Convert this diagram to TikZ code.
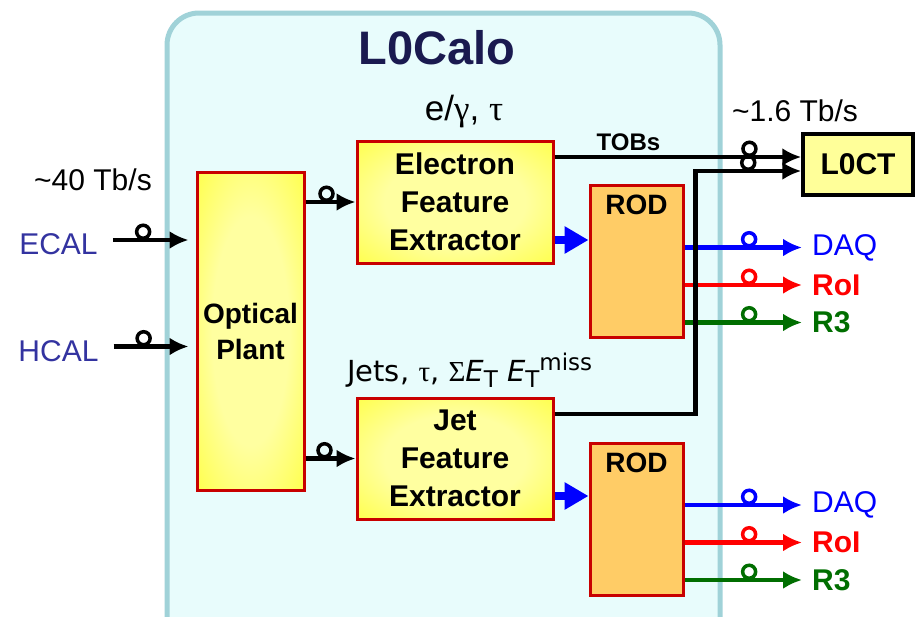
\documentclass[tikz,border=0pt]{standalone}
\usepackage{fontspec}
\setmainfont{Liberation Sans}
\newfontfamily\grkfont{Liberation Serif}
\newfontfamily\verdfont{DejaVu Sans}
\usepackage{tikz}
\usetikzlibrary{arrows.meta,calc,positioning}
\definecolor{calobg}{RGB}{232,252,252}
\definecolor{caloframe}{RGB}{160,210,216}
\definecolor{titlecolor}{RGB}{26,26,80}
\definecolor{detcolor}{RGB}{51,51,160}
\definecolor{boxred}{RGB}{200,0,0}
\definecolor{yelin}{RGB}{255,255,160}
\definecolor{yelout}{RGB}{255,255,0}
\definecolor{rodin}{RGB}{255,204,102}
\definecolor{rodout}{RGB}{255,150,40}
\definecolor{l0ctcolor}{RGB}{255,255,153}
\definecolor{daqcolor}{RGB}{0,0,255}
\definecolor{roicolor}{RGB}{255,0,0}
\definecolor{rthreecolor}{RGB}{0,110,0}
\pgfdeclareradialshading{yellowglow}{\pgfpoint{0bp}{0bp}}{color(0bp)=(yelin); color(18bp)=(yelin); color(52bp)=(yelout); color(72bp)=(yelout)}
\pgfdeclareradialshading{rodglow}{\pgfpoint{0bp}{0bp}}{color(0bp)=(rodin); color(38bp)=(rodin); color(72bp)=(rodout)}
\newcommand{\fsize}[2]{\fontsize{#1}{#2}\selectfont}
\newcommand{\tsub}[1]{\raisebox{-6pt}{\fsize{23}{23}#1}}
\newcommand{\tsup}[1]{\raisebox{11pt}{\fsize{23}{23}#1}}

\begin{document}
\begin{tikzpicture}[
    x=1pt, y=-1pt,
    fbox/.style={rectangle, draw=boxred, line width=3pt, shading=yellowglow, align=center, inner sep=0pt, font=\fsize{30}{38}\bfseries},
    rodbox/.style={rectangle, draw=boxred, line width=3pt, shading=rodglow, minimum width=93pt, minimum height=152pt,
        label={[font=\fsize{28}{28}\bfseries, anchor=north, inner sep=0pt, yshift=-11pt]north:ROD}},
    sig/.style={line width=4.5pt, -{Latex[length=19pt,width=18pt]}},
    ring/.style={circle, draw, line width=3.5pt, minimum size=13pt, inner sep=0pt, anchor=south},
    feed/.style={line width=8pt, draw=daqcolor, -{Triangle[length=24pt,width=26pt]}},
    lbl/.style={font=\fsize{30}{30}, anchor=west, inner ysep=0pt, inner xsep=10pt}
]
\useasboundingbox (0,0) rectangle (915,616);

\node[rectangle, draw=caloframe, line width=5pt, fill=calobg, rounded corners=32pt, minimum width=553pt, minimum height=640pt] (calo) at (443.5,333) {};
\node[font=\fsize{47}{47}\bfseries, text=titlecolor] (title) at (437,48) {L0Calo};

\node[fbox, minimum width=107pt, minimum height=318pt, font=\fsize{28}{36}\bfseries] (optical) at (250.5,331) {Optical\\Plant};
\node[fbox, minimum width=196pt, minimum height=122pt] (elec) at (455,202) {Electron\\Feature\\Extractor};
\node[fbox, minimum width=196pt, minimum height=121pt] (jet) at (455,458.5) {Jet\\Feature\\Extractor};
\node[rodbox] (roda) at (636.5,261.5) {};
\node[rodbox] (rodb) at (636.5,519.5) {};
\node[rectangle, draw, line width=3.5pt, fill=l0ctcolor, minimum width=110pt, minimum height=61pt, font=\fsize{30}{30}\bfseries] (l0ct) at (858,164.5) {L0CT};

\node[font=\fsize{30}{30}, text=detcolor, inner sep=0pt] (ecal) at (58.5,244.5) {ECAL};
\node[font=\fsize{30}{30}, text=detcolor, inner sep=0pt] (hcal) at (58.5,351.5) {HCAL};
\node[font=\fsize{30}{30}] (inrate) at (93,180) {\textasciitilde 40 Tb/s};
\node[font=\fsize{30}{30}] (outrate) at (795,111) {\textasciitilde 1.6 Tb/s};
\node[font=\fsize{35}{35}] (egamma) at (464,112) {e/{\grkfont γ}, {\grkfont τ}};
\node[font=\verdfont\fsize{29}{29}, anchor=base west, inner sep=0pt] (jetobj) at (347,381)
    {Jets, {\grkfont τ}, {\grkfont Σ}\textit{E}\tsub{T} \textit{E}\tsub{T}\tsup{miss}};

\node[lbl, text=daqcolor] (daqa) at (802,247.5) {DAQ};
\node[lbl, text=roicolor, font=\fsize{30}{30}\bfseries] (roia) at (802,285) {RoI};
\node[lbl, text=rthreecolor, font=\fsize{30}{30}\bfseries] (rthreea) at (802,322.5) {R3};
\node[lbl, text=daqcolor] (daqb) at (802,505) {DAQ};
\node[lbl, text=roicolor, font=\fsize{30}{30}\bfseries] (roib) at (802,542.5) {RoI};
\node[lbl, text=rthreecolor, font=\fsize{30}{30}\bfseries] (rthreeb) at (802,580) {R3};

\draw[sig] ([xshift=15pt,yshift=4.5pt]ecal.east) -- node[ring,pos=0.4]{} ([xshift=-7pt,yshift=4.5pt]ecal.east -| optical.west);
\draw[sig] ([xshift=15pt,yshift=5pt]hcal.east) -- node[ring,pos=0.4]{} ([xshift=-7pt,yshift=5pt]hcal.east -| optical.west);
\draw[sig] (optical.east |- elec.west) -- node[ring,pos=0.42]{} (elec.west);
\draw[sig] (optical.east |- jet.west) -- node[ring,pos=0.38]{} (jet.west);

\draw[feed] ([yshift=-38pt]elec.east) -- ([yshift=-38pt]elec.east -| roda.west);
\draw[feed] ([yshift=-37.5pt]jet.east) -- ([yshift=-37.5pt]jet.east -| rodb.west);

\draw[sig, daqcolor] (roda.east |- daqa.west) -- node[ring,pos=0.55]{} (daqa.west);
\draw[sig, roicolor] (roda.east |- roia.west) -- node[ring,pos=0.55]{} (roia.west);
\draw[sig, rthreecolor] (roda.east |- rthreea.west) -- node[ring,pos=0.55]{} (rthreea.west);
\draw[sig, daqcolor] (rodb.east |- daqb.west) -- node[ring,pos=0.55]{} (daqb.west);
\draw[sig, roicolor] (rodb.east |- roib.west) -- node[ring,pos=0.55]{} (roib.west);
\draw[sig, rthreecolor] (rodb.east |- rthreeb.west) -- node[ring,pos=0.55]{} (rthreeb.west);

\draw[sig] ([yshift=45pt]elec.east) -- node[ring,pos=0.79]{} node[above=1pt, pos=0.3, font=\fsize{24}{24}\bfseries]{TOBs} ([yshift=7.5pt]l0ct.west);
\draw[sig] ([yshift=44.5pt]jet.east) -| ([xshift=-106pt,yshift=-6.5pt]l0ct.west) -- node[ring,pos=0.5]{} ([yshift=-6.5pt]l0ct.west);

\end{tikzpicture}
\end{document}
